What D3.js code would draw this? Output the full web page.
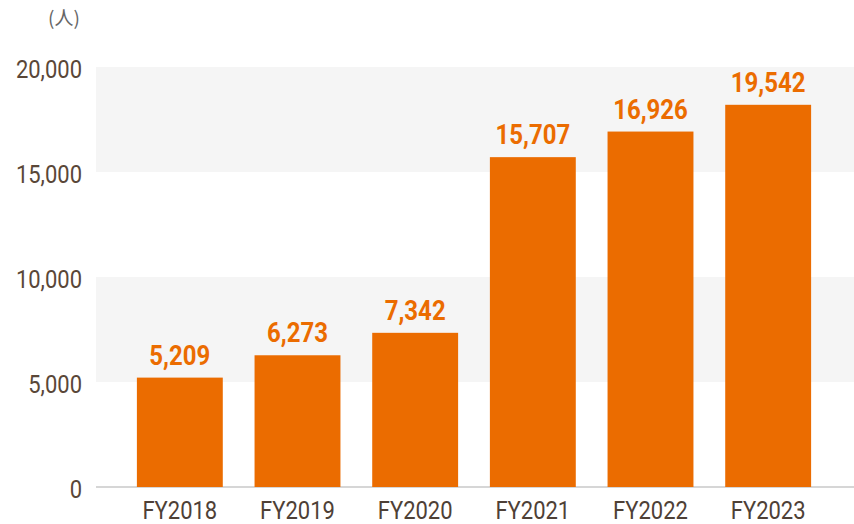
<!DOCTYPE html>
<html>
<head>
<meta charset="utf-8">
<script src="https://cdn.jsdelivr.net/npm/d3@7"></script>
<style>
  body { margin: 0; background: #fff; }
  svg { display: block; font-family: Roboto, "Noto Sans", sans-serif; }
</style>
</head>
<body>
<div id="chart"></div>
<script>
// data
var years = ['FY2018', 'FY2019', 'FY2020', 'FY2021', 'FY2022', 'FY2023'];
var barValues = [5209, 6273, 7342, 15707, 16926, 18200]; // bar heights as drawn
var valueLabels = ['5,209', '6,273', '7,342', '15,707', '16,926', '19,542'];
var yTicks = [0, 5000, 10000, 15000, 20000];

var w = 854, h = 524;
var plotLeft = 96, plotRight = 854;

var svg = d3.select('div#chart').append('svg')
            .attr('width', w)
            .attr('height', h);

var x = d3.scaleBand()
          .domain(years)
          .range([121, 827])
          .paddingInner(0.27)
          .paddingOuter(0.135);

var y = d3.scaleLinear()
          .domain([0, 20000])
          .range([487, 67]);

//gray bands
var bands = [[15000, 20000], [5000, 10000]];
svg.append('g').selectAll('rect').data(bands)
   .enter().append('rect')
   .attr('x', plotLeft)
   .attr('width', plotRight - plotLeft)
   .attr('y', function(d){ return y(d[1]); })
   .attr('height', function(d){ return y(d[0]) - y(d[1]); })
   .attr('fill', '#f5f5f5');

//baseline
svg.append('line')
   .attr('x1', plotLeft).attr('x2', plotRight)
   .attr('y1', y(0)).attr('y2', y(0))
   .attr('stroke', '#d6d6d6')
   .attr('stroke-width', 2);

//tall narrow text: scale vertically around the baseline
var tallText = function(sel, sy){
	sel.attr('transform', function(){
		var t = d3.select(this);
		return 'translate(' + t.attr('x') + ',' + t.attr('y') + ') scale(1,' + sy + ')';
	}).attr('x', 0).attr('y', 0);
};

//y axis labels
var fmt = d3.format(',');
svg.append('g').selectAll('text').data(yTicks)
   .enter().append('text')
   .attr('x', 82)
   .attr('y', function(d){ return y(d) + 11; })
   .attr('text-anchor', 'end')
   .attr('font-size', 22)
   .attr('fill', '#5a4738')
   .text(function(d){ return fmt(d); })
   .call(tallText, 1.16);

//unit
svg.append('text')
   .attr('x', 64).attr('y', 25)
   .attr('text-anchor', 'middle')
   .attr('font-size', 19)
   .attr('font-family', '"Noto Sans CJK JP", sans-serif')
   .attr('fill', '#666')
   .text('(人)');

//bars
svg.append('g').selectAll('rect').data(barValues)
   .enter().append('rect')
   .attr('x', function(d, i){ return x(years[i]); })
   .attr('width', x.bandwidth())
   .attr('y', function(d){ return y(d); })
   .attr('height', function(d){ return y(0) - y(d); })
   .attr('fill', '#eb6c00');

//value labels
svg.append('g').selectAll('text').data(barValues)
   .enter().append('text')
   .attr('x', function(d, i){ return x(years[i]) + x.bandwidth() / 2; })
   .attr('y', function(d){ return y(d) - 13; })
   .attr('text-anchor', 'middle')
   .attr('font-size', 24)
   .attr('font-weight', 'bold')
   .attr('fill', '#eb6c00')
   .text(function(d, i){ return valueLabels[i]; })
   .call(tallText, 1.15);

//x axis labels
svg.append('g').selectAll('text').data(years)
   .enter().append('text')
   .attr('x', function(d){ return x(d) + x.bandwidth() / 2; })
   .attr('y', 519)
   .attr('text-anchor', 'middle')
   .attr('font-size', 22)
   .attr('fill', '#4e4036')
   .text(function(d){ return d; })
   .call(tallText, 1.16);
</script>
</body>
</html>
